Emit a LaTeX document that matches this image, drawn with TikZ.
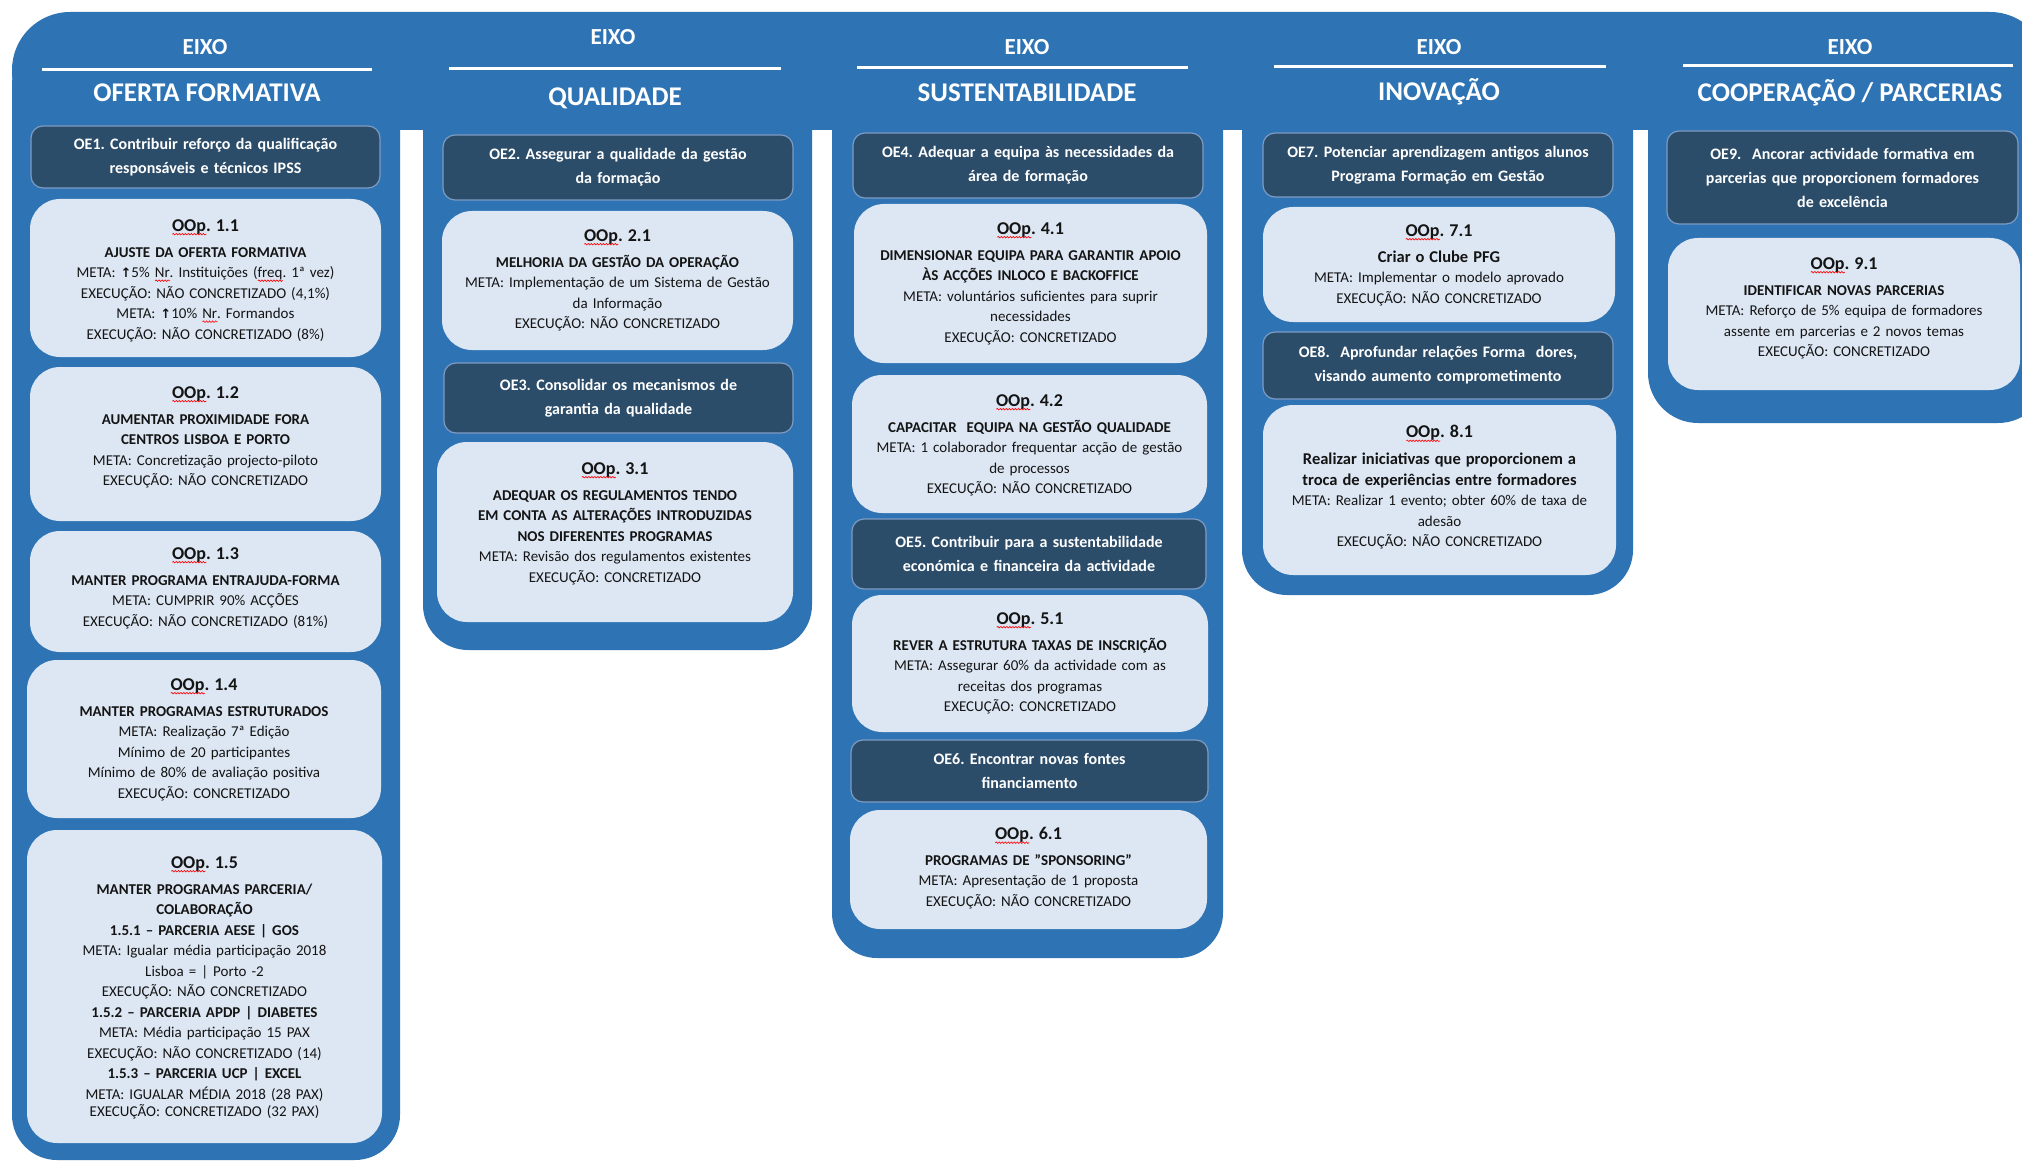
\documentclass[tikz,border=0pt]{standalone}
\usepackage{fontspec}
\setmainfont{Carlito}
\newfontfamily\symfont{DejaVu Sans}
\usetikzlibrary{decorations.pathmorphing}
\frenchspacing
\newcommand\spell[1]{\setbox0\hbox{#1}\rlap{\smash{\tikz[baseline=0pt, x=1pt, y=1pt]\draw[red, line width=0.6pt, decorate, decoration={snake, amplitude=0.8pt, segment length=3pt}] (0pt,-3.2pt) -- (\the\wd0,-3.2pt);}}\box0}
\newcommand\ttl[1]{{\fontsize{18}{18}\selectfont\bfseries #1\par}\vspace{5.5pt}}
\newcommand\upar{{\symfont\bfseries\fontsize{13}{13}\selectfont ↑}}
\definecolor{axisblue}{RGB}{46,116,181}
\definecolor{oedark}{RGB}{44,77,106}
\definecolor{oeline}{RGB}{125,155,195}
\definecolor{ooplight}{RGB}{221,231,243}
\definecolor{inktext}{RGB}{20,20,20}
\begin{document}
\begin{tikzpicture}[x=1pt,y=-1pt,
  sepline/.style={draw=white, line width=3pt},
  eixo/.style={text=white, font=\fontsize{23}{26}\selectfont\bfseries, anchor=base, inner sep=0pt},
  axistitle/.style={text=white, font=\fontsize{27}{30}\selectfont\bfseries, anchor=base, inner sep=0pt},
  oebox/.style={draw=oeline, line width=1.2pt, fill=oedark, rounded corners=12pt, text=white,
    font=\fontsize{16}{24}\selectfont\bfseries, align=center, text width=345pt, inner xsep=0pt, inner ysep=0pt},
  oopbox/.style={fill=ooplight, rounded corners=30pt, inner sep=0pt},
  ooptext/.style={text=inktext, font=\fontsize{15}{20.5}\selectfont, align=center, text width=345pt, inner sep=0pt, anchor=north}]
\useasboundingbox (0,0) rectangle (2022,1161);
\fill[white] (0,0) rectangle (2022,1161);
% axis band and columns
\fill[axisblue, rounded corners=58pt] (12,12) rectangle (2048,130);
\fill[axisblue, rounded corners=45pt] (12,40) rectangle (400,1160);
\fill[axisblue, rounded corners=45pt] (423,40) rectangle (812,650);
\fill[axisblue, rounded corners=45pt] (832,40) rectangle (1223,958);
\fill[axisblue, rounded corners=45pt] (1242,40) rectangle (1633,595);
\fill[axisblue, rounded corners=50pt] (1648,40) rectangle (2048,423);
% headers
\node[eixo] (e1) at (205,54.3) {EIXO};
\draw[sepline] (42,70) -- (372,70);
\node[axistitle] (h1) at (207,101.5) {OFERTA FORMATIVA};
\node[eixo] (e2) at (613,44.3) {EIXO};
\draw[sepline] (449,69) -- (781,69);
\node[axistitle] (h2) at (615,105.5) {QUALIDADE};
\node[eixo] (e3) at (1027,54.3) {EIXO};
\draw[sepline] (857,68) -- (1188,68);
\node[axistitle] (h3) at (1027,101.5) {SUSTENTABILIDADE};
\node[eixo] (e4) at (1439,54.3) {EIXO};
\draw[sepline] (1274,67) -- (1606,67);
\node[axistitle] (h4) at (1439,100.5) {INOVAÇÃO};
\node[eixo] (e5) at (1850,54.3) {EIXO};
\draw[sepline] (1683,66) -- (2013,66);
\node[axistitle] (h5) at (1850,101.5) {COOPERAÇÃO / PARCERIAS};
% ---------- column 1
\node[oebox, minimum width=349pt, minimum height=62pt] (oe1) at (205.5,157) {OE1. Contribuir reforço da qualificação\\ responsáveis e técnicos IPSS};
\node[oopbox, minimum width=351pt, minimum height=158pt] (b11) at (205.5,278) {};
\node[ooptext] (t11) at (205.5,219) {\ttl{\spell{OOp}. 1.1}\textbf{AJUSTE DA OFERTA FORMATIVA}\\
META: \upar 5\% \spell{Nr}. Instituições (\spell{freq}. 1ª vez)\\
EXECUÇÃO: NÃO CONCRETIZADO (4,1\%)\\
META: \upar 10\% \spell{Nr}. Formandos\\
EXECUÇÃO: NÃO CONCRETIZADO (8\%)};
\node[oopbox, minimum width=351pt, minimum height=154pt] (b12) at (205.5,444) {};
\node[ooptext] (t12) at (205.5,386) {\ttl{\spell{OOp}. 1.2}\textbf{AUMENTAR PROXIMIDADE FORA}\\
\textbf{CENTROS LISBOA E PORTO}\\
META: Concretização projecto-piloto\\
EXECUÇÃO: NÃO CONCRETIZADO};
\node[oopbox, minimum width=351pt, minimum height=121pt] (b13) at (205.5,591.5) {};
\node[ooptext] (t13) at (205.5,547) {\ttl{\spell{OOp}. 1.3}\textbf{MANTER PROGRAMA ENTRAJUDA-FORMA}\\
META: CUMPRIR 90\% ACÇÕES\\
EXECUÇÃO: NÃO CONCRETIZADO (81\%)};
\node[oopbox, minimum width=354pt, minimum height=158pt] (b14) at (204,739) {};
\node[ooptext] (t14) at (204,678) {\ttl{\spell{OOp}. 1.4}\textbf{MANTER PROGRAMAS ESTRUTURADOS}\\
META: Realização 7ª Edição\\
Mínimo de 20 participantes\\
Mínimo de 80\% de avaliação positiva\\
EXECUÇÃO: CONCRETIZADO};
\node[oopbox, minimum width=355pt, minimum height=313pt] (b15) at (204.5,986.5) {};
\node[ooptext] (t15) at (204.5,856) {\ttl{\spell{OOp}. 1.5}\textbf{MANTER PROGRAMAS PARCERIA/}\\
\textbf{COLABORAÇÃO}\\
\textbf{1.5.1 – PARCERIA AESE | GOS}\\
META: Igualar média participação 2018\\
Lisboa = | Porto -2\\
EXECUÇÃO: NÃO CONCRETIZADO\\
\textbf{1.5.2 – PARCERIA APDP | DIABETES}\\
META: Média participação 15 PAX\\
EXECUÇÃO: NÃO CONCRETIZADO (14)\\
\textbf{1.5.3 – PARCERIA UCP | EXCEL}\\
META: IGUALAR MÉDIA 2018 (28 PAX)\\[-3.5pt]
EXECUÇÃO: CONCRETIZADO (32 PAX)};
% ---------- column 2
\node[oebox, minimum width=350pt, minimum height=65pt] (oe2) at (618,167.5) {OE2. Assegurar a qualidade da gestão\\ da formação};
\node[oopbox, minimum width=351pt, minimum height=139pt] (b21) at (617.5,280.5) {};
\node[ooptext] (t21) at (617.5,229) {\ttl{\spell{OOp}. 2.1}\textbf{MELHORIA DA GESTÃO DA OPERAÇÃO}\\
META: Implementação de um Sistema de Gestão\\
da Informação\\
EXECUÇÃO: NÃO CONCRETIZADO};
\node[oebox, minimum width=349pt, minimum height=70pt] (oe3) at (618.5,398) {OE3. Consolidar os mecanismos de\\ garantia da qualidade};
\node[oopbox, minimum width=356pt, minimum height=180pt] (b31) at (615,532) {};
\node[ooptext] (t31) at (615,462) {\ttl{\spell{OOp}. 3.1}\textbf{ADEQUAR OS REGULAMENTOS TENDO}\\
\textbf{EM CONTA AS ALTERAÇÕES INTRODUZIDAS}\\
\textbf{NOS DIFERENTES PROGRAMAS}\\
META: Revisão dos regulamentos existentes\\
EXECUÇÃO: CONCRETIZADO};
% ---------- column 3
\node[oebox, minimum width=350pt, minimum height=65pt] (oe4) at (1028,165.5) {OE4. Adequar a equipa às necessidades da\\ área de formação};
\node[oopbox, minimum width=353pt, minimum height=159pt] (b41) at (1030.5,283.5) {};
\node[ooptext] (t41) at (1030.5,222) {\ttl{\spell{OOp}. 4.1}\textbf{DIMENSIONAR EQUIPA PARA GARANTIR APOIO}\\
\textbf{ÀS ACÇÕES INLOCO E BACKOFFICE}\\
META: voluntários suficientes para suprir\\
necessidades\\
EXECUÇÃO: CONCRETIZADO};
\node[oopbox, minimum width=355pt, minimum height=138pt] (b42) at (1029.5,444) {};
\node[ooptext] (t42) at (1029.5,394) {\ttl{\spell{OOp}. 4.2}\textbf{CAPACITAR\ \ EQUIPA NA GESTÃO QUALIDADE}\\
META: 1 colaborador frequentar acção de gestão\\
de processos\\
EXECUÇÃO: NÃO CONCRETIZADO};
\node[oebox, minimum width=354pt, minimum height=70pt] (oe5) at (1029,554) {OE5. Contribuir para a sustentabilidade\\ económica e financeira da actividade};
\node[oopbox, minimum width=356pt, minimum height=137pt] (b51) at (1030,663.5) {};
\node[ooptext] (t51) at (1030,612) {\ttl{\spell{OOp}. 5.1}\textbf{REVER A ESTRUTURA TAXAS DE INSCRIÇÃO}\\
META: Assegurar 60\% da actividade com as\\
receitas dos programas\\
EXECUÇÃO: CONCRETIZADO};
\node[oebox, minimum width=357pt, minimum height=62pt] (oe6) at (1029.5,771) {OE6. Encontrar novas fontes\\ financiamento};
\node[oopbox, minimum width=357pt, minimum height=119pt] (b61) at (1028.5,869.5) {};
\node[ooptext] (t61) at (1028.5,827) {\ttl{\spell{OOp}. 6.1}\textbf{PROGRAMAS DE "SPONSORING"}\\
META: Apresentação de 1 proposta\\
EXECUÇÃO: NÃO CONCRETIZADO};
% ---------- column 4
\node[oebox, minimum width=350pt, minimum height=64pt] (oe7) at (1438,165) {OE7. Potenciar aprendizagem antigos alunos\\ Programa Formação em Gestão};
\node[oopbox, minimum width=352pt, minimum height=115pt] (b71) at (1439,264.5) {};
\node[ooptext] (t71) at (1439,224) {\ttl{\spell{OOp}. 7.1}{\bfseries\fontsize{16.5}{20.5}\selectfont Criar o Clube PFG}\\
META: Implementar o modelo aprovado\\
EXECUÇÃO: NÃO CONCRETIZADO};
\node[oebox, minimum width=350pt, minimum height=67pt] (oe8) at (1438,365.5) {OE8.\ \ Aprofundar relações Forma\ \ dores,\\ visando aumento comprometimento};
\node[oopbox, minimum width=353pt, minimum height=170pt] (b81) at (1439.5,490) {};
\node[ooptext] (t81) at (1439.5,425) {\ttl{\spell{OOp}. 8.1}\bfseries\fontsize{16.5}{21}\selectfont Realizar iniciativas que proporcionem a\\
troca de experiências entre formadores\\
\mdseries\fontsize{15}{20.5}\selectfont META: Realizar 1 evento; obter 60\% de taxa de\\
adesão\\
EXECUÇÃO: NÃO CONCRETIZADO};
% ---------- column 5
\node[oebox, minimum width=351pt, minimum height=93pt] (oe9) at (1842.5,177.5) {OE9.\ \ Ancorar actividade formativa em\\ parcerias que proporcionem formadores\\ de excelência};
\node[oopbox, minimum width=352pt, minimum height=152pt] (b91) at (1844,314) {};
\node[ooptext] (t91) at (1844,257) {\ttl{\spell{OOp}. 9.1}\textbf{IDENTIFICAR NOVAS PARCERIAS}\\
META: Reforço de 5\% equipa de formadores\\
assente em parcerias e 2 novos temas\\
EXECUÇÃO: CONCRETIZADO};
\end{tikzpicture}
\end{document}
